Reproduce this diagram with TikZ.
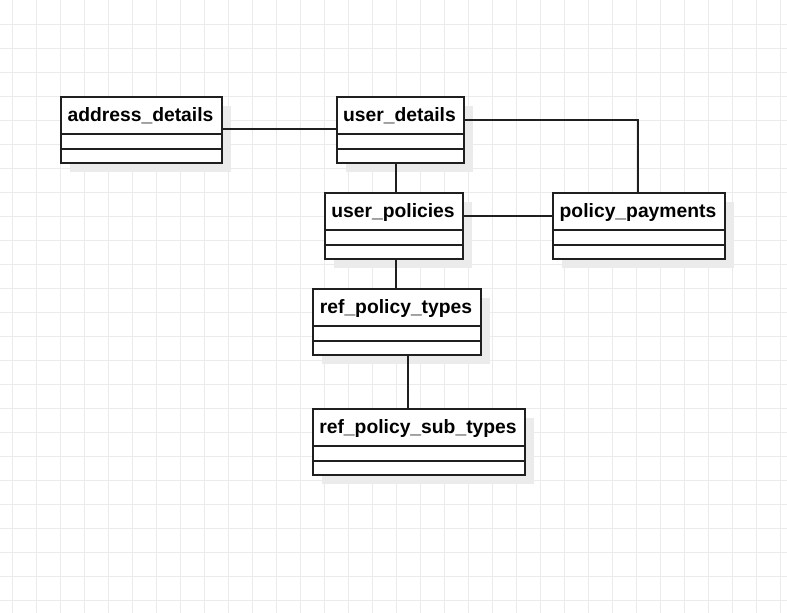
\documentclass[tikz,border=0pt]{standalone}
\usepackage{fontspec}
\setmainfont{Liberation Sans}
\begin{document}
\begin{tikzpicture}[x=1pt,y=-1pt,
  gridline/.style={draw=black!8, line width=0.8pt},
  classbox/.style={draw=black!88, line width=2pt, fill=white, inner sep=0pt, anchor=north west},
  shadowbox/.style={fill=black!8, draw=none},
  divider/.style={draw=black!88, line width=2pt},
  classlabel/.style={anchor=base, inner sep=0pt, font=\fontsize{19.3}{23}\selectfont\bfseries},
  conn/.style={draw=black!88, line width=2pt}]
\useasboundingbox (0,0) rectangle (787,613);
\fill[white] (0,0) rectangle (787,613);
\foreach \x in {12.5,36.5,...,787} {\draw[gridline] (\x,0) -- (\x,613);}
\foreach \y in {24.5,48.5,...,613} {\draw[gridline] (0,\y) -- (787,\y);}
% class macro: name, left, top, right, bottom, div1, div2, label
\newcommand{\umlcls}[8]{%
  \fill[shadowbox] (#2+10,#3+10) rectangle (#4+10,#5+10);
  \node[classbox, minimum width={(#4-#2)*1pt}, minimum height={(#5-#3)*1pt}] (#1) at (#2,#3) {};
  \draw[divider] (#2,#6) -- (#4,#6);
  \draw[divider] (#2,#7) -- (#4,#7);
  \node[classlabel] (#1-lbl) at ({(#2+#4)/2},#3+25) {#8};
}
\umlcls{ad}{60}{96}{221}{162}{134}{149}{address\_details}
\umlcls{ud}{336}{96}{463}{162}{134}{149}{user\_details}
\umlcls{up}{324}{192}{462}{258}{230}{245}{user\_policies}
\umlcls{pp}{552}{192}{724}{258}{230}{245}{policy\_payments}
\umlcls{rpt}{312}{288}{480}{354}{326}{341}{ref\_policy\_types}
\umlcls{rpst}{312}{408}{524}{474}{446}{461}{ref\_policy\_sub\_types}
\coordinate (x396) at (396,0);
\coordinate (x408) at (408,0);
\coordinate (y120) at (0,120);
\coordinate (y129) at (0,129);
\coordinate (y216) at (0,216);
\coordinate (x638) at (638,0);
\draw[conn] (ad.east |- y129) -- (ud.west |- y129);
\draw[conn] (ud.east |- y120) -| (pp.north -| x638);
\draw[conn] (ud.south -| x396) -- (up.north -| x396);
\draw[conn] (up.east |- y216) -- (pp.west |- y216);
\draw[conn] (up.south -| x396) -- (rpt.north -| x396);
\draw[conn] (rpt.south -| x408) -- (rpst.north -| x408);
\end{tikzpicture}
\end{document}
